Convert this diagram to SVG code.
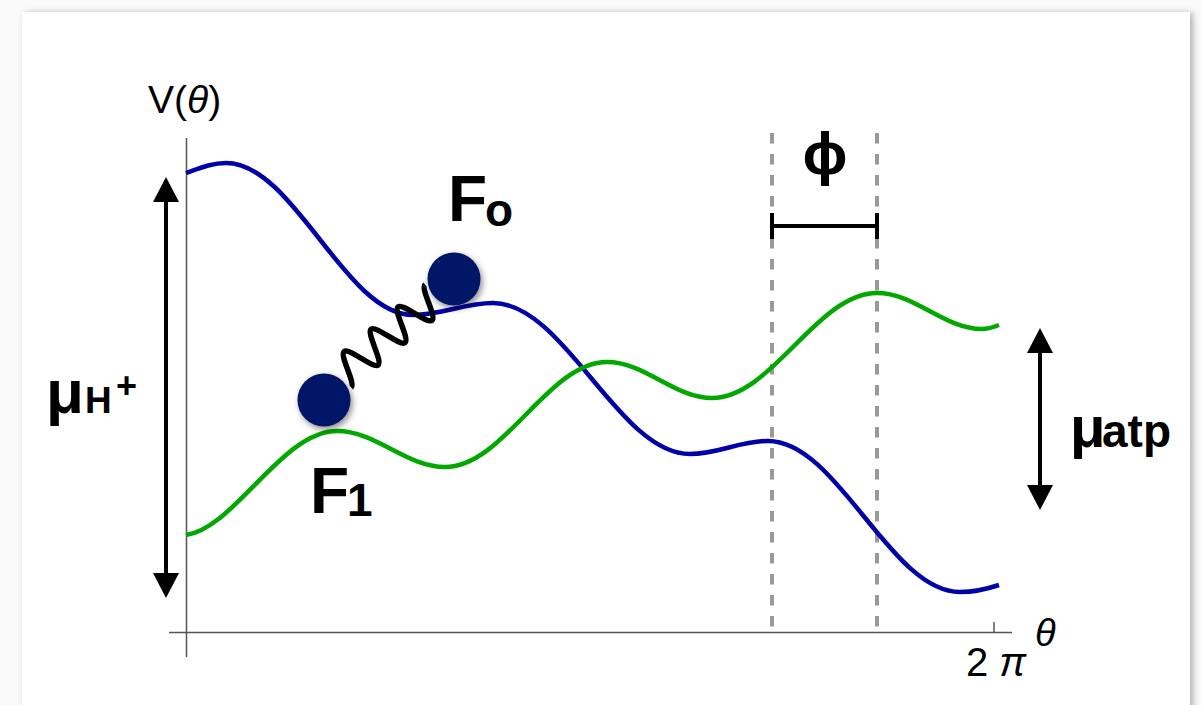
<svg xmlns="http://www.w3.org/2000/svg" width="1202" height="705" viewBox="0 0 1202 705">
<style>
.axis{stroke:#555;stroke-width:1.5;fill:none}
.blue{stroke:#0000a8;stroke-width:4.5;fill:none}
.green{stroke:#00a800;stroke-width:4.5;fill:none}
.dash{stroke:#999;stroke-width:4;stroke-dasharray:10.5 10.5;fill:none}
.ball{fill:#001266;filter:url(#bs)}
.lbl{font-family:"Liberation Sans",Arial,sans-serif;fill:#000}
.b{font-weight:bold}
.arrow{stroke:#000;stroke-width:4;fill:none;marker-start:url(#ah);marker-end:url(#ah)}
</style>
<defs>
<filter id="card" x="-5%" y="-5%" width="110%" height="110%">
<feDropShadow dx="3" dy="1" stdDeviation="3" flood-color="#000" flood-opacity="0.3"/>
</filter>
<filter id="bs" x="-50%" y="-50%" width="200%" height="200%">
<feDropShadow dx="2" dy="3" stdDeviation="3" flood-color="#000" flood-opacity="0.45"/>
</filter>
<marker id="ah" markerWidth="25" markerHeight="26" refX="0" refY="13" orient="auto-start-reverse" markerUnits="userSpaceOnUse" viewBox="0 0 25 26">
<path d="M0,0 L25,13 L0,26 z" fill="#000"/>
</marker>
</defs>
<rect width="1202" height="705" fill="#fafafa"/>
<rect x="22" y="12" width="1168" height="720" fill="#fff" filter="url(#card)"/>

<g id="axes">
<line class="axis" x1="186.5" y1="138" x2="186.5" y2="657"/>
<line class="axis" x1="169" y1="632.5" x2="1012" y2="632.5"/>
<line class="axis" x1="994" y1="622" x2="994" y2="632"/>
<text class="lbl" x="148" y="113" font-size="39">V(<tspan font-style="italic">θ</tspan>)</text>
<text class="lbl" x="1035" y="646" font-size="38" font-style="italic">θ</text>
<text class="lbl" x="966" y="676" font-size="40">2 <tspan font-style="italic">π</tspan></text>
</g>

<g id="phase">
<line class="dash" x1="772" y1="133" x2="772" y2="633"/>
<line class="dash" x1="877" y1="133" x2="877" y2="633"/>
<path d="M772,226 H877 M772,213 V239 M877,213 V239" stroke="#000" stroke-width="4" fill="none"/>
<text class="lbl b" x="825" y="174" font-size="60" text-anchor="middle">ϕ</text>
</g>

<g id="curves">
<path id="blue-curve" class="blue" d="M186,173 C200,168 212,163 226,163 C294,163 345,315 413,315 C442,315 464,303 493,303 C564.6,303 618.4,454 690,454 C718.3,454 739.7,441 768,441 C837.8,441 890.2,592 960,592 C975,592 990,588 999,585"/>
<path id="green-curve" class="green" d="M186,535 C235,528 282,431 337,431 C376,431 406,467 445,467 C504,467 548,362 607,362 C645,362 674,398 712,398 C772,398 817,293 877,293 C915,293 944,329 982,329 C988,329 994,327 999,325"/>
</g>

<g id="connectors">
<line class="arrow" x1="166" y1="202" x2="166" y2="573"/>
<line class="arrow" x1="1040" y1="353" x2="1040" y2="485"/>
</g>

<g id="spring">
<path transform="translate(322.4,390.3) rotate(-39.6)" d="M24,16 C30.36,16 35.14,-16 41.5,-16 S52.64,16 59,16 S70.14,-16 76.5,-16 S87.64,16 94,16 S105.14,-16 111.5,-16 S122.64,16 129,16 S140.14,-16 146.5,-16" stroke="#000" stroke-width="5.5" fill="none"/>
</g>

<g id="F1">
<circle class="ball" cx="324" cy="400" r="26.5"/>
<text class="lbl b" x="310" y="513" font-size="64">F</text>
<text class="lbl b" x="347" y="516" font-size="46">1</text>
</g>

<g id="Fo">
<circle class="ball" cx="454" cy="279" r="26.5"/>
<text class="lbl b" x="448" y="221" font-size="64">F</text>
<text class="lbl b" x="485" y="226" font-size="46">o</text>
</g>

<g id="muH">
<text class="lbl b" x="46" y="413" font-size="62">μ</text>
<text class="lbl b" x="85" y="413" font-size="37">H</text>
<text class="lbl b" x="116" y="398" font-size="36">+</text>
</g>

<g id="muATP">
<text class="lbl b" x="1070" y="447" font-size="58">μ</text>
<text class="lbl b" x="1102" y="447" font-size="46">atp</text>
</g>
</svg>
